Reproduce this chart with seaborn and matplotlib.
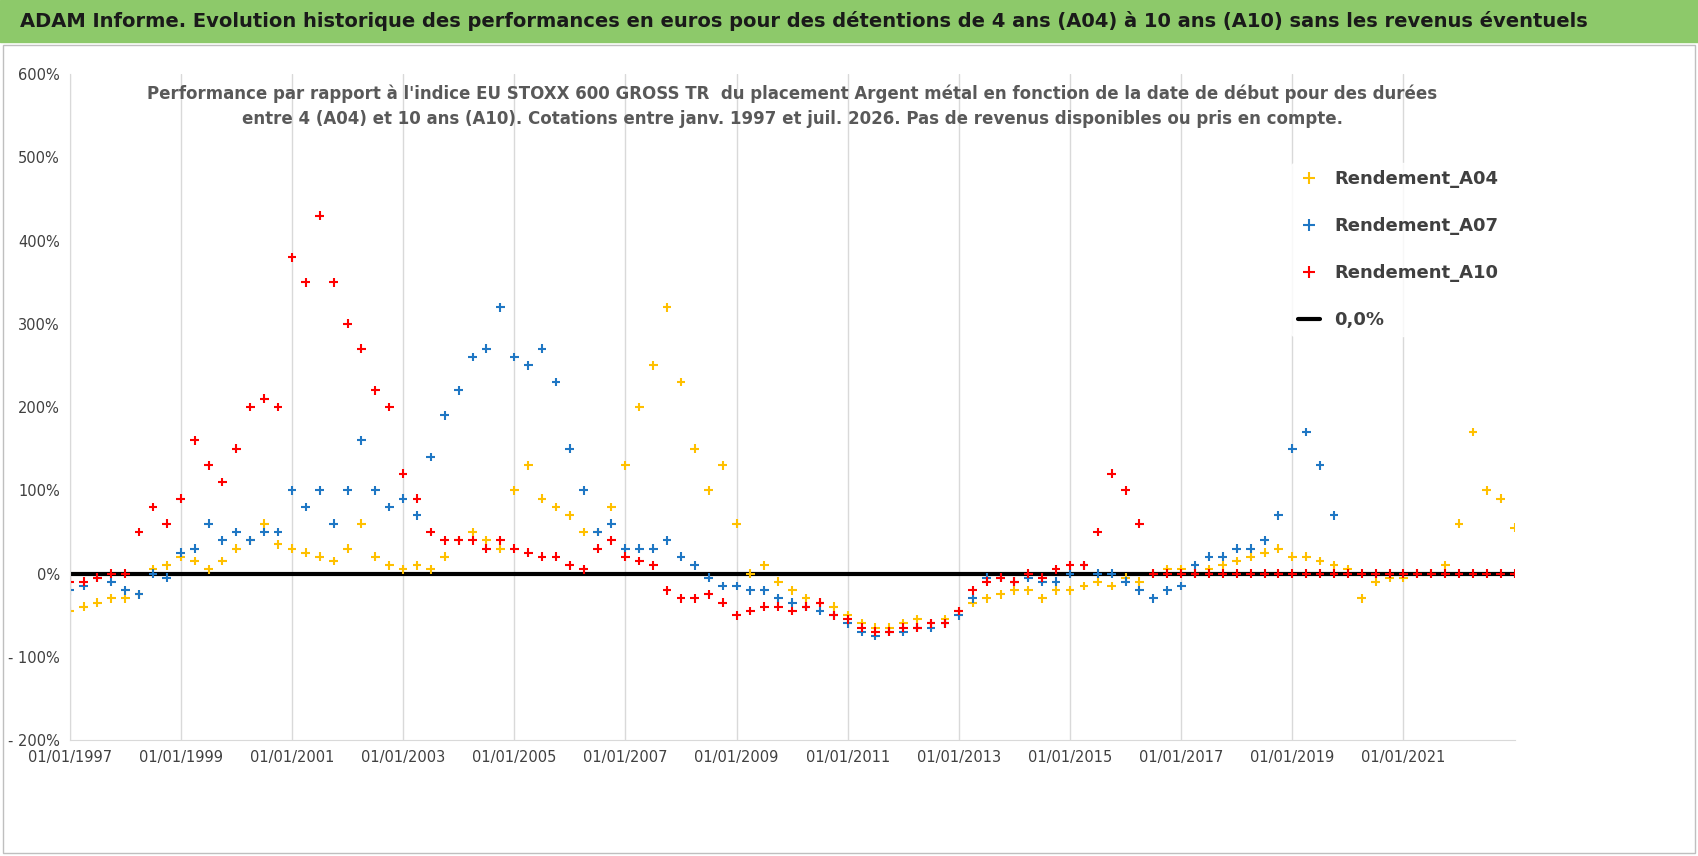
import pandas as pd
import numpy as np
import matplotlib
matplotlib.use('Agg')
import matplotlib.pyplot as plt
import seaborn as sns
from matplotlib.lines import Line2D
from matplotlib.patches import Rectangle

# ============================================
# DATA (quarterly readings, in %)
# ============================================
rend_a04 = [-45, -40, -35, -30, -30, -25, 5, 10, 20, 15, 5, 15, 30, 40, 60, 35,
            30, 25, 20, 15, 30, 60, 20, 10, 5, 10, 5, 20, 40, 50, 40, 30,
            100, 130, 90, 80, 70, 50, 50, 80, 130, 200, 250, 320, 230, 150, 100, 130,
            60, 0, 10, -10, -20, -30, -35, -40, -50, -60, -65, -65, -60, -55, -60, -55,
            -45, -35, -30, -25, -20, -20, -30, -20, -20, -15, -10, -15, -5, -10, 0, 5,
            5, 0, 5, 10, 15, 20, 25, 30, 20, 20, 15, 10, 5, -30, -10, -5,
            -5, 0, 0, 10, 60, 170, 100, 90, 55]
rend_a07 = [-20, -15, -5, -10, -20, -25, 0, -5, 25, 30, 60, 40, 50, 40, 50, 50,
            100, 80, 100, 60, 100, 160, 100, 80, 90, 70, 140, 190, 220, 260, 270, 320,
            260, 250, 270, 230, 150, 100, 50, 60, 30, 30, 30, 40, 20, 10, -5, -15,
            -15, -20, -20, -30, -35, -40, -45, -50, -60, -70, -75, -70, -70, -65, -65, -60,
            -50, -30, -5, -5, -10, -5, -10, -10, 0, 10, 0, 0, -10, -20, -30, -20,
            -15, 10, 20, 20, 30, 30, 40, 70, 150, 170, 130, 70]
rend_a10 = [-10, -10, -5, 0, 0, 50, 80, 60, 90, 160, 130, 110, 150, 200, 210, 200,
            380, 350, 430, 350, 300, 270, 220, 200, 120, 90, 50, 40, 40, 40, 30, 40,
            30, 25, 20, 20, 10, 5, 30, 40, 20, 15, 10, -20, -30, -30, -25, -35,
            -50, -45, -40, -40, -45, -40, -35, -50, -55, -65, -70, -70, -65, -65, -60, -60,
            -45, -20, -10, -5, -10, 0, -5, 5, 10, 10, 50, 120, 100, 60, 0, 0,
            0, 0, 0, 0, 0, 0, 0, 0, 0, 0, 0, 0, 0, 0, 0, 0,
            0, 0, 0, 0, 0, 0, 0, 0, 0]
start_year = 1997
xtick_years = list(range(1997, 2022, 2))

frames = []
for name, vals in [('Rendement_A04', rend_a04), ('Rendement_A07', rend_a07), ('Rendement_A10', rend_a10)]:
    frames.append(pd.DataFrame({'annee': start_year + np.arange(len(vals)) * 0.25,
                                'perf': vals, 'serie': name}))
df = pd.concat(frames, ignore_index=True)

palette = {'Rendement_A04': '#FFC000', 'Rendement_A07': '#1F77C4', 'Rendement_A10': '#FF0000'}

# ============================================
# FIGURE
# ============================================
sns.set_style('white')
plt.rcParams['font.family'] = ['DejaVu Sans']

fig = plt.figure(figsize=(16.98, 8.56), dpi=100)
fig.patches.append(Rectangle((0, 0.951), 1, 0.049, transform=fig.transFigure,
                             color='#8DC96A', zorder=0))
fig.patches.append(Rectangle((0.002, 0.004), 0.996, 0.944, transform=fig.transFigure,
                             fill=False, edgecolor='#BFBFBF', lw=1))
fig.text(0.012, 0.975, "ADAM Informe. Evolution historique des performances en euros pour des détentions de 4 ans (A04) à 10 ans (A10) sans les revenus éventuels",
         fontsize=14, fontweight='bold', va='center', color='#1a1a1a')

ax = fig.add_axes([0.041, 0.1355, 0.851, 0.778])
ax.axhline(0, color='black', lw=3, zorder=1)
sns.scatterplot(data=df, x='annee', y='perf', hue='serie', palette=palette, marker='+',
                s=40, linewidth=1.5, ax=ax, legend=False, zorder=2)

ax.set_xlim(1997, 2023)
ax.set_ylim(-200, 600)
ax.set_xticks(xtick_years)
ax.set_xticklabels([f'01/01/{y}' for y in xtick_years], fontsize=10.5, color='#404040')
ax.set_yticks(range(-200, 601, 100))
ax.set_yticklabels([f'{v}%' if v >= 0 else f'- {-v}%' for v in range(-200, 601, 100)],
                   fontsize=10.5, color='#404040')
ax.grid(True, axis='x', color='#D9D9D9', lw=1)
ax.set_xlabel('')
ax.set_ylabel('')
for s in ['top', 'right']:
    ax.spines[s].set_visible(False)
ax.spines['left'].set_color('#D9D9D9')
ax.spines['bottom'].set_color('#D9D9D9')

ax.text(0.5, 0.985, "Performance par rapport à l'indice EU STOXX 600 GROSS TR  du placement Argent métal en fonction de la date de début pour des durées\nentre 4 (A04) et 10 ans (A10). Cotations entre janv. 1997 et juil. 2026. Pas de revenus disponibles ou pris en compte.",
        transform=ax.transAxes, ha='center', va='top', fontsize=12, fontweight='bold',
        color='#595959', linespacing=1.5)

handles = [Line2D([], [], marker='+', ls='', color=palette[k], markersize=8, mew=1.5, label=k)
           for k in palette]
handles.append(Line2D([], [], color='black', lw=3, label='0,0%'))
leg = ax.legend(handles=handles, loc='upper right', bbox_to_anchor=(1.0, 0.88),
                frameon=True, facecolor='white', edgecolor='white', fontsize=13,
                labelspacing=1.6, handlelength=1.2)
for t in leg.get_texts():
    t.set_fontweight('bold')
    t.set_color('#404040')

plt.savefig('out.png', dpi=100)
